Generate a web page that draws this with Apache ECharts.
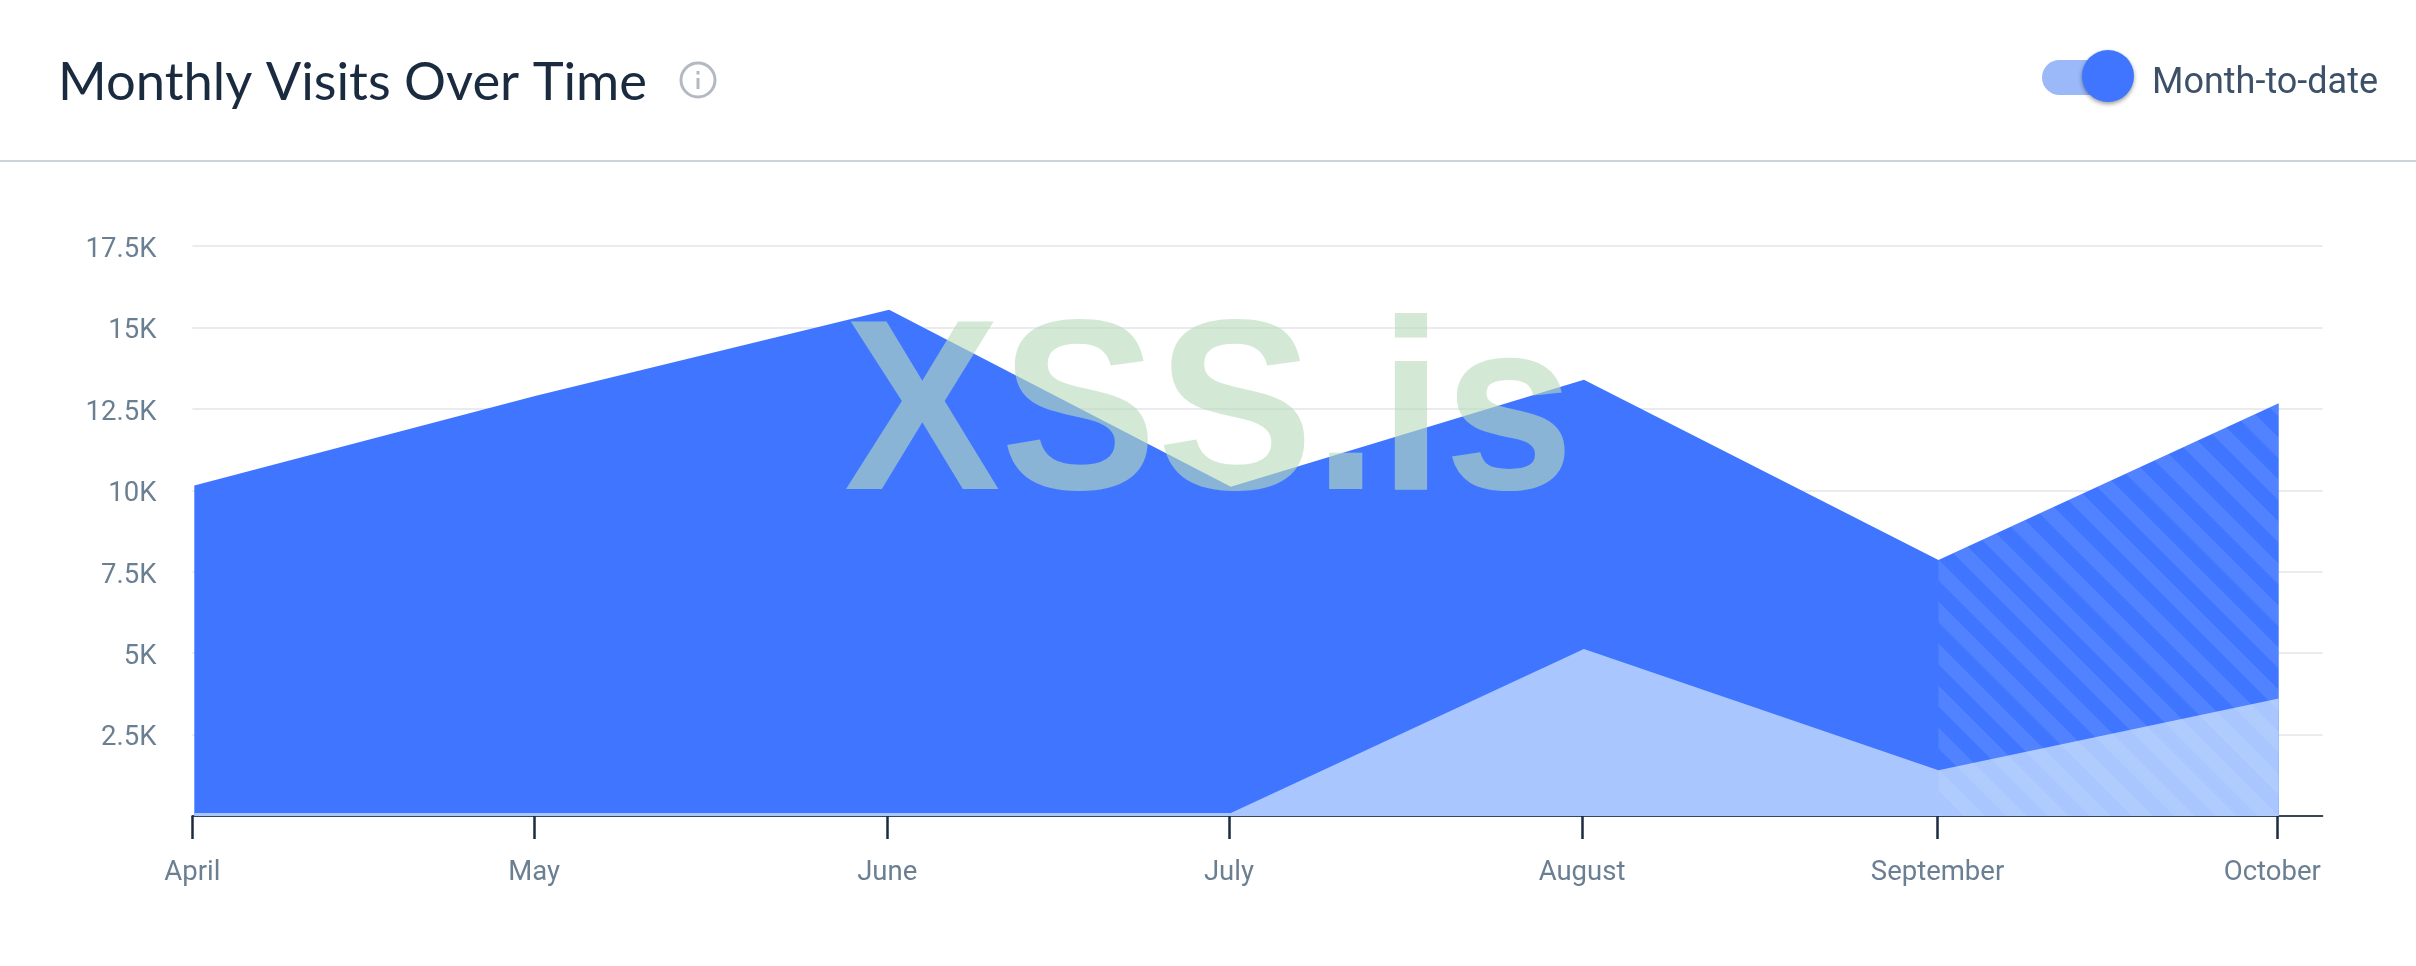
<!DOCTYPE html>
<html><head><meta charset="utf-8">
<style>html,body{margin:0;padding:0;background:#fff}#c{width:2416px;height:966px}</style>
<script src="https://cdn.jsdelivr.net/npm/echarts@6/dist/echarts.min.js"></script></head>
<body><div id="c"></div>
<script>
const months = ['April','May','June','July','August','September','October'];
const tickDates = ['2024-04-01T00:00Z','2024-05-01T00:00Z','2024-06-01T00:00Z','2024-07-01T00:00Z','2024-08-01T00:00Z','2024-09-01T05:00Z','2024-10-01T00:00Z'];
const pointDates = ['2024-04-01T04:00Z','2024-05-01T04:00Z','2024-06-01T04:00Z','2024-07-01T04:00Z','2024-08-01T04:00Z','2024-09-01T07:00Z','2024-10-01T04:00Z'];
const totalVisits = [10150,12900,15540,10110,13390,7860,12670];
const partialVisits = [90,90,90,90,5130,1404,3607];
const yTicks = [2500,5000,7500,10000,12500,15000,17500];
const hatchFrom = 5;

const ts = d => Date.parse(d);
const pairs = vals => vals.map((v,i)=>[ts(pointDates[i]), v]);

// diagonal hatch tile for the month-to-date span
const P = 42, tile = document.createElement('canvas');
tile.width = P; tile.height = P;
const t = tile.getContext('2d');
t.fillStyle = 'rgba(255,255,255,0.09)';
for (let k=-2;k<=2;k++){
  const c = 7 + k*P; // y-x = c .. c+21
  t.beginPath();
  t.moveTo(0,c); t.lineTo(P,c+P); t.lineTo(P,c+P+21); t.lineTo(0,c+21); t.closePath(); t.fill();
}

const chart = echarts.init(document.getElementById('c'), null, {renderer:'canvas'});
const font = 'Roboto';
const tickVals = tickDates.map(ts);
chart.setOption({
  animation:false, backgroundColor:'#fff',
  grid:{left:192.4,top:246,width:2130,height:570,containLabel:false},
  xAxis:{type:'value',min:ts('2024-04-01T00:00Z'),max:ts('2024-10-05T00:00Z'),
    axisLine:{show:true,onZero:false,lineStyle:{color:'#34465c',width:2}},
    axisTick:{show:true,length:23,lineStyle:{color:'#1c2b40',width:2.5},customValues:tickVals},
    splitLine:{show:false},
    axisLabel:{margin:43.5,color:'#6b7f92',fontFamily:font,fontSize:27.5,hideOverlap:false,
      showMinLabel:true,showMaxLabel:true,
      customValues:tickVals,
      formatter:v=>{const i=tickVals.indexOf(+v);const n=months[i]||'';return i===months.length-1?'{e|'+n+'}':n;},
      rich:{e:{padding:[0,9,0,0],color:'#6b7f92',fontFamily:font,fontSize:27.5}}}},
  yAxis:{type:'value',min:0,max:17500,interval:2500,
    axisLine:{show:false},axisTick:{show:false},
    splitLine:{show:true,lineStyle:{color:'#e9ebee',width:2}},
    axisLabel:{margin:36,verticalAlign:'top',lineHeight:8,color:'#6b7f92',fontFamily:font,fontSize:27.5,
      formatter:v=>yTicks.includes(v)?(v/1000)+'K':''}},
  series:[
    {type:'line',name:'Total',data:pairs(totalVisits),symbol:'none',lineStyle:{width:0},areaStyle:{color:'#4076ff',opacity:1},z:2},
    {type:'line',name:'Partial',data:pairs(partialVisits),symbol:'none',lineStyle:{width:0},areaStyle:{color:'#a9c7fe',opacity:1},z:3},
    {type:'line',name:'Month-to-date',data:pairs(totalVisits).slice(hatchFrom),symbol:'none',lineStyle:{width:0},
      areaStyle:{color:{image:tile,repeat:'repeat'},opacity:1},z:4}
  ],
  graphic:[
    {type:'rect',shape:{x:0,y:160,width:2416,height:2},style:{fill:'#cdd3da'},silent:true},
    {type:'text',x:58,y:83,style:{text:'Monthly Visits Over Time',font:'400 52.5px Lato',fill:'#1a2b40',textVerticalAlign:'middle',textAlign:'left'}},
    {type:'circle',shape:{cx:698,cy:80,r:17},style:{fill:'none',stroke:'#b4b9c1',lineWidth:3}},
    {type:'rect',shape:{x:696.5,y:78,width:3,height:11},style:{fill:'#b4b9c1'}},
    {type:'rect',shape:{x:696.5,y:71,width:3,height:3.5},style:{fill:'#b4b9c1'}},
    {type:'rect',shape:{x:2042,y:60,width:78,height:35,r:17.5},style:{fill:'#9bb9f9'}},
    {type:'circle',shape:{cx:2108,cy:76,r:26},style:{fill:'#4076ff',shadowBlur:4,shadowOffsetY:2,shadowColor:'rgba(0,0,0,0.4)'}},
    {type:'text',x:2152,y:83.5,style:{text:'Month-to-date',font:'400 36px Roboto',fill:'#3c5068',textVerticalAlign:'middle',textAlign:'left'}},
    {type:'text',x:844,y:422.3,scaleX:1.011,scaleY:1.05,z:100,style:{text:'XSS.is',font:'700 232px "Liberation Sans"',fill:'rgba(184,218,187,0.62)',textVerticalAlign:'middle',textAlign:'left'}}
  ]
});
</script></body></html>
